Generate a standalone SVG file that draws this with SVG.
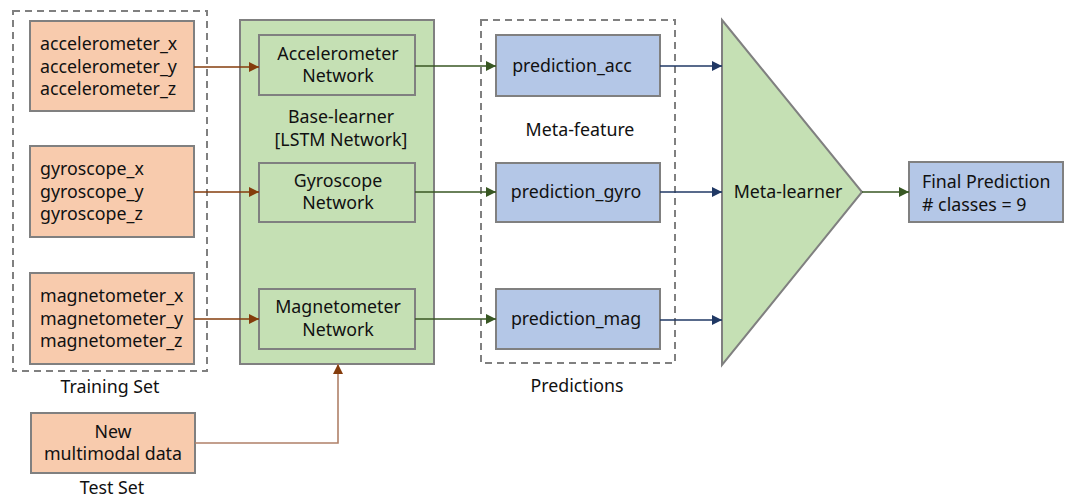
<svg xmlns="http://www.w3.org/2000/svg" width="1066" height="499" viewBox="0 0 1066 499">
<style>
text{font-family:"Noto Sans","Open Sans","DejaVu Sans",sans-serif;font-size:17.8px;fill:#111;}
.c{text-anchor:middle;}
.org{fill:#F8CBAD;stroke:#808080;stroke-width:2;}
.grn{fill:#C5E0B4;stroke:#808080;stroke-width:2;}
.blu{fill:#B4C7E7;stroke:#808080;stroke-width:2;}
.dash{fill:none;stroke:#808080;stroke-width:2;stroke-dasharray:7 5;}
.br{stroke:#843C0C;stroke-width:1.3;fill:none;}
.gr{stroke:#385723;stroke-width:1.3;fill:none;}
.bl{stroke:#203864;stroke-width:1.3;fill:none;}
</style>
<defs>
<marker id="ab" viewBox="0 0 10 10" refX="10" refY="5" markerWidth="10" markerHeight="10" markerUnits="userSpaceOnUse" orient="auto"><path d="M0,0 L10,5 L0,10 Z" fill="#843C0C"/></marker>
<marker id="ag" viewBox="0 0 10 10" refX="10" refY="5" markerWidth="10" markerHeight="10" markerUnits="userSpaceOnUse" orient="auto"><path d="M0,0 L10,5 L0,10 Z" fill="#385723"/></marker>
<marker id="an" viewBox="0 0 10 10" refX="10" refY="5" markerWidth="10" markerHeight="10" markerUnits="userSpaceOnUse" orient="auto"><path d="M0,0 L10,5 L0,10 Z" fill="#203864"/></marker>
</defs>

<g id="training-set">
<rect class="dash" x="13" y="11" width="194" height="360"/>
<text class="c" x="110" y="393">Training Set</text>
</g>
<g id="acc-data">
<rect class="org" x="30" y="21" width="164" height="90"/>
<text x="40" y="50">accelerometer_x</text>
<text x="40" y="72.5">accelerometer_y</text>
<text x="40" y="95">accelerometer_z</text>
</g>
<g id="gyro-data">
<rect class="org" x="30" y="146" width="164" height="91"/>
<text x="40" y="175">gyroscope_x</text>
<text x="40" y="197.5">gyroscope_y</text>
<text x="40" y="220">gyroscope_z</text>
</g>
<g id="mag-data">
<rect class="org" x="30" y="273" width="164" height="91"/>
<text x="40" y="302">magnetometer_x</text>
<text x="40" y="324.5">magnetometer_y</text>
<text x="40" y="347">magnetometer_z</text>
</g>
<g id="test-data">
<rect class="org" x="31" y="413" width="164" height="60"/>
<text class="c" x="113" y="438">New</text>
<text class="c" x="113" y="460">multimodal data</text>
<text class="c" x="112" y="494">Test Set</text>
</g>

<g id="base-learner">
<rect class="grn" x="240" y="20" width="194" height="344"/>
<text class="c" x="341" y="123">Base-learner</text>
<text class="c" x="341" y="146">[LSTM Network]</text>
</g>
<g id="acc-net">
<rect class="grn" x="259" y="35" width="156" height="60"/>
<text class="c" x="338" y="60">Accelerometer</text>
<text class="c" x="338" y="82">Network</text>
</g>
<g id="gyro-net">
<rect class="grn" x="259" y="163" width="156" height="59"/>
<text class="c" x="338" y="187">Gyroscope</text>
<text class="c" x="338" y="209">Network</text>
</g>
<g id="mag-net">
<rect class="grn" x="259" y="289" width="156" height="60"/>
<text class="c" x="338" y="313">Magnetometer</text>
<text class="c" x="338" y="336">Network</text>
</g>

<g id="predictions">
<rect class="dash" x="481" y="20" width="194" height="343"/>
<text class="c" x="580" y="136">Meta-feature</text>
<text class="c" x="577" y="392">Predictions</text>
</g>
<g id="pred-acc">
<rect class="blu" x="496" y="35" width="164" height="61"/>
<text class="c" x="572" y="72">prediction_acc</text>
</g>
<g id="pred-gyro">
<rect class="blu" x="496" y="163" width="164" height="59"/>
<text class="c" x="576" y="198">prediction_gyro</text>
</g>
<g id="pred-mag">
<rect class="blu" x="496" y="289" width="164" height="60"/>
<text class="c" x="576" y="325">prediction_mag</text>
</g>

<g id="meta-learner">
<polygon points="722,20 862,192 722,365" fill="#C5E0B4" stroke="#808080" stroke-width="2"/>
<text class="c" x="788" y="198">Meta-learner</text>
</g>
<g id="final">
<rect class="blu" x="909" y="162" width="154" height="60"/>
<text x="922" y="188">Final Prediction</text>
<text x="922" y="211"># classes = 9</text>
</g>

<g id="connectors">
<line class="br" x1="194" y1="67" x2="259" y2="67" marker-end="url(#ab)"/>
<line class="br" x1="194" y1="192" x2="259" y2="192" marker-end="url(#ab)"/>
<line class="br" x1="194" y1="319" x2="259" y2="319" marker-end="url(#ab)"/>
<polyline points="195,443 338,443 338,364" fill="none" stroke="#B08068" stroke-width="1.6" marker-end="url(#ab)"/>
<line class="gr" x1="415" y1="66" x2="496" y2="66" marker-end="url(#ag)"/>
<line class="gr" x1="415" y1="192" x2="496" y2="192" marker-end="url(#ag)"/>
<line class="gr" x1="415" y1="319" x2="496" y2="319" marker-end="url(#ag)"/>
<line class="bl" x1="660" y1="66" x2="722" y2="66" marker-end="url(#an)"/>
<line class="bl" x1="660" y1="192" x2="722" y2="192" marker-end="url(#an)"/>
<line class="bl" x1="660" y1="320" x2="722" y2="320" marker-end="url(#an)"/>
<line class="gr" x1="862" y1="192" x2="909" y2="192" marker-end="url(#ag)"/>
</g>
</svg>
